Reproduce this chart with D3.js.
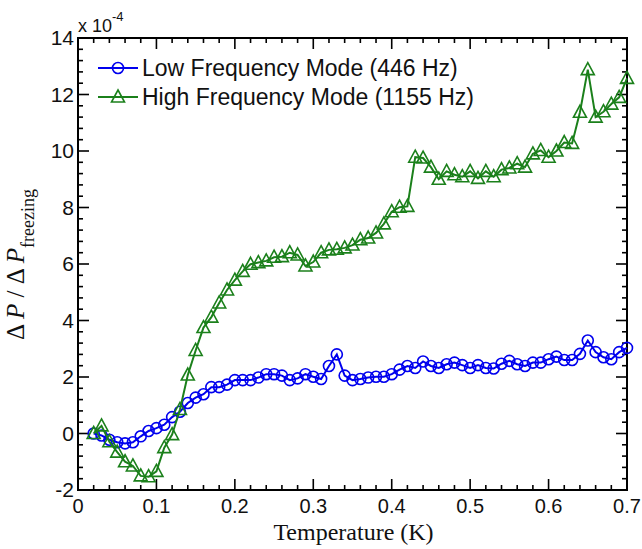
<!DOCTYPE html>
<html>
<head>
<meta charset="utf-8">
<script src="https://cdn.jsdelivr.net/npm/d3@7/dist/d3.min.js"></script>
<style>
  body { margin: 0; background: #fff; }
  svg { display: block; }
  .tick-label { font-family: "Liberation Sans", Arial, sans-serif; font-size: 20px; fill: #111; }
</style>
</head>
<body>
<div class="chart"></div>
<script>
// temperature steps (K)
const temps = d3.range(2, 71).map(d => d / 100);

// low frequency mode, 446 Hz (x 1e-4)
const lowValues = [
  0, -0.07, -0.22, -0.31, -0.35, -0.31, -0.1, 0.09, 0.19, 0.31,
  0.58, 0.77, 1.08, 1.27, 1.39, 1.64, 1.64, 1.73, 1.89, 1.89,
  1.89, 1.98, 2.1, 2.1, 2.05, 1.89, 1.95, 2.1, 2.01, 1.93,
  2.39, 2.8, 2.05, 1.89, 1.93, 1.98, 2.01, 2.01, 2.1, 2.26,
  2.39, 2.32, 2.55, 2.39, 2.32, 2.45, 2.51, 2.42, 2.32, 2.42,
  2.32, 2.3, 2.47, 2.57, 2.45, 2.39, 2.51, 2.51, 2.63, 2.72,
  2.6, 2.6, 2.82, 3.29, 2.88, 2.7, 2.63, 2.88, 3.03
];

// high frequency mode, 1155 Hz (x 1e-4)
const highValues = [
  0, 0.27, -0.29, -0.66, -1.0, -1.15, -1.5, -1.53, -1.34, -0.5,
  -0.04, 0.85, 2.07, 2.94, 3.75, 4.12, 4.62, 5.08, 5.43, 5.74,
  5.99, 6.05, 6.11, 6.24, 6.26, 6.4, 6.32, 5.93, 6.07, 6.4,
  6.5, 6.52, 6.57, 6.67, 6.86, 6.92, 7.1, 7.42, 7.85, 8.01,
  8.04, 9.78, 9.75, 9.43, 9.0, 9.28, 9.16, 9.09, 9.28, 9.03,
  9.28, 9.09, 9.34, 9.4, 9.55, 9.43, 9.9, 10.02, 9.78, 10.0,
  10.3, 10.27, 11.37, 12.88, 11.2, 11.39, 11.66, 11.9, 12.57
];

const xTicks = [0, 0.1, 0.2, 0.3, 0.4, 0.5, 0.6, 0.7];
const yTicks = [-2, 0, 2, 4, 6, 8, 10, 12, 14];
const seriesNames = ['Low Frequency Mode (446 Hz)', 'High Frequency Mode (1155 Hz)'];

const width = 642, height = 549;
const margin = {top: 38, right: 15, bottom: 59, left: 78};
const chartWidth = width - margin.left - margin.right;
const chartHeight = height - margin.top - margin.bottom;

const blue = '#0000ee';
const green = '#1b801b';

const xScale = d3.scaleLinear().domain([0, 0.7]).range([0, chartWidth]);
const yScale = d3.scaleLinear().domain([-2, 14]).range([chartHeight, 0]);

const svg = d3.select('.chart')
  .append('svg')
  .attr('width', width)
  .attr('height', height)
  .append('g')
  .attr('transform', `translate(${margin.left}, ${margin.top})`);

//minor ticks
const xMinor = d3.range(0, 0.7001, 0.02);
const yMinor = d3.range(-2, 14.001, 0.4);

//draw inward ticks on all four sides
function drawTicks(g){
  const tk = g.append('g').attr('stroke', '#000').attr('stroke-width', 1.6);
  xMinor.forEach(v => {
    const major = xTicks.some(t => Math.abs(t - v) < 1e-6);
    const len = major ? 11 : 5;
    tk.append('line').attr('x1', xScale(v)).attr('x2', xScale(v))
      .attr('y1', chartHeight).attr('y2', chartHeight - len);
    tk.append('line').attr('x1', xScale(v)).attr('x2', xScale(v))
      .attr('y1', 0).attr('y2', len);
  });
  yMinor.forEach(v => {
    const major = yTicks.some(t => Math.abs(t - v) < 1e-6);
    const len = major ? 11 : 5;
    tk.append('line').attr('y1', yScale(v)).attr('y2', yScale(v))
      .attr('x1', 0).attr('x2', len);
    tk.append('line').attr('y1', yScale(v)).attr('y2', yScale(v))
      .attr('x1', chartWidth).attr('x2', chartWidth - len);
  });
}
drawTicks(svg);

//frame
svg.append('rect')
  .attr('width', chartWidth)
  .attr('height', chartHeight)
  .attr('fill', 'none')
  .attr('stroke', '#000')
  .attr('stroke-width', 2);

//tick labels
svg.append('g').selectAll('text')
  .data(xTicks)
  .enter()
  .append('text')
  .attr('class', 'tick-label')
  .attr('x', d => xScale(d))
  .attr('y', chartHeight + 23)
  .attr('text-anchor', 'middle')
  .text(d => d === 0 ? '0' : d3.format('.1f')(d));

svg.append('g').selectAll('text')
  .data(yTicks)
  .enter()
  .append('text')
  .attr('class', 'tick-label')
  .attr('x', -4)
  .attr('y', d => yScale(d) + 7)
  .attr('text-anchor', 'end')
  .style('font-size', '21px')
  .text(d => d);

//exponent
const expo = svg.append('text')
  .attr('class', 'tick-label')
  .attr('x', 0)
  .attr('y', -6)
  .style('font-size', '18px');
expo.append('tspan').text('x 10');
expo.append('tspan').text('-4').attr('dy', -11).style('font-size', '13px');

//lines and markers
const line = d3.line()
  .x((d, i) => xScale(temps[i]))
  .y(d => yScale(d));

function drawSeries(values, color, shape){
  const g = svg.append('g');
  g.append('path')
    .datum(values)
    .attr('d', line)
    .attr('fill', 'none')
    .attr('stroke', color)
    .attr('stroke-width', 2);
  g.selectAll('.mark')
    .data(values)
    .enter()
    .append('path')
    .attr('class', 'mark')
    .attr('transform', (d, i) => `translate(${xScale(temps[i])}, ${yScale(d)})`)
    .attr('d', shape)
    .attr('fill', 'none')
    .attr('stroke', color)
    .attr('stroke-width', 1.6);
}

const circleShape = d3.symbol().type(d3.symbolCircle).size(95)();
const triShape = 'M0,-7L6.5,5L-6.5,5Z';

drawSeries(lowValues, blue, circleShape);
drawSeries(highValues, green, triShape);

//legend
const legend = svg.append('g').attr('transform', 'translate(20, 0)');
[[blue, circleShape], [green, triShape]].forEach((s, i) => {
  const y = 30 + i * 29;
  legend.append('line')
    .attr('x1', 0).attr('x2', 40)
    .attr('y1', y).attr('y2', y)
    .attr('stroke', s[0]).attr('stroke-width', 2);
  legend.append('path')
    .attr('transform', `translate(20, ${y})`)
    .attr('d', s[1])
    .attr('fill', 'none')
    .attr('stroke', s[0])
    .attr('stroke-width', 1.6);
  legend.append('text')
    .attr('class', 'tick-label')
    .attr('x', 44)
    .attr('y', y + 8)
    .style('font-size', '23px')
    .text(seriesNames[i]);
});

//x axis label
svg.append('text')
  .attr('x', chartWidth / 2 + 1)
  .attr('y', chartHeight + 50)
  .attr('text-anchor', 'middle')
  .style('font-family', '"Liberation Serif", "Times New Roman", serif')
  .style('font-size', '24px')
  .style('fill', '#111')
  .text('Temperature (K)');

//y axis label
const yLab = svg.append('text')
  .attr('transform', `translate(${-54}, ${302}) rotate(-90)`)
  .style('font-family', '"Liberation Serif", "Times New Roman", serif')
  .style('font-size', '25px')
  .style('fill', '#111');
yLab.append('tspan').text('\u0394 ');
yLab.append('tspan').text('P').style('font-style', 'italic');
yLab.append('tspan').text(' / \u0394 ');
yLab.append('tspan').text('P').style('font-style', 'italic');
yLab.append('tspan').text('freezing').attr('dy', 10).style('font-size', '18px');
</script>
</body>
</html>
